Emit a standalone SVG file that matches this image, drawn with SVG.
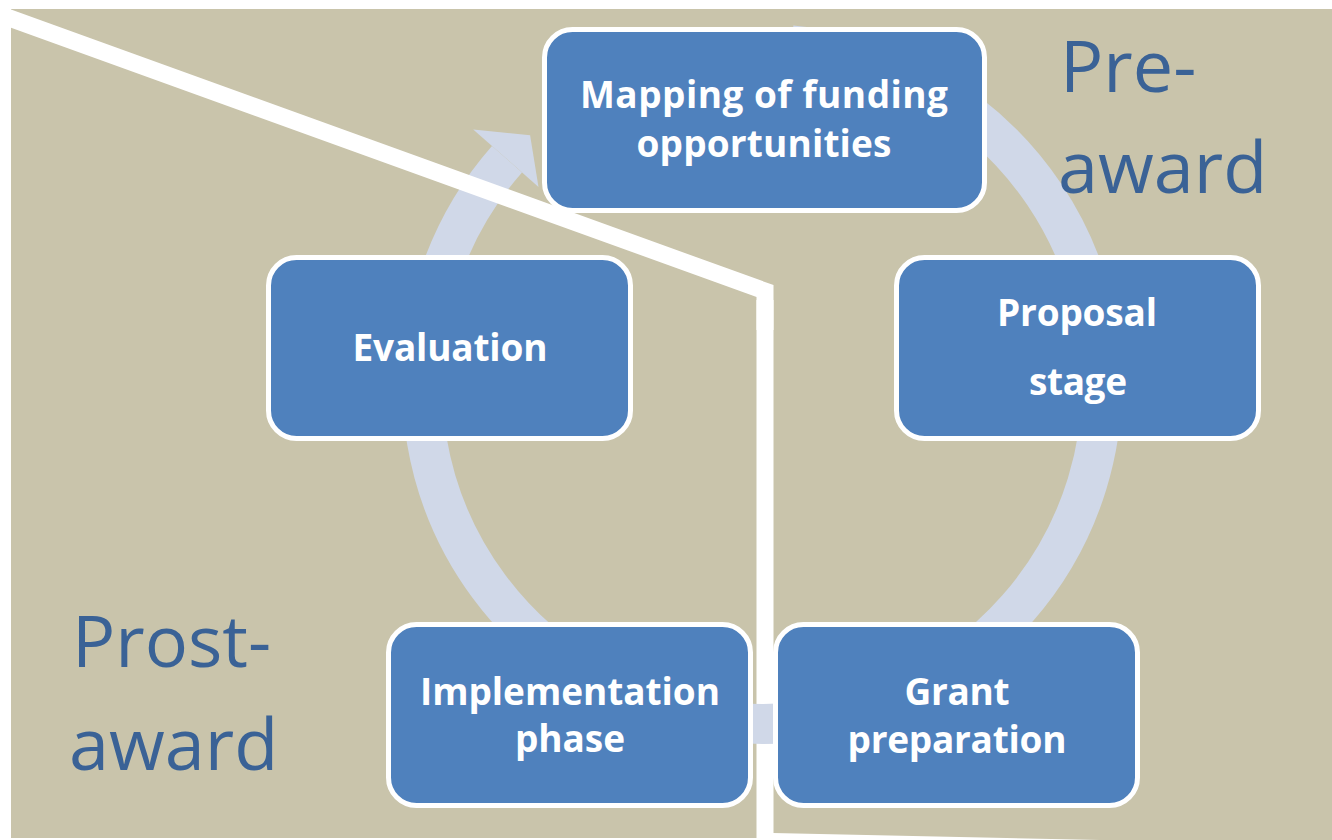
<svg xmlns="http://www.w3.org/2000/svg" width="1332" height="840" viewBox="0 0 1332 840">
  <style>
    .box { fill: #4f81bd; stroke: #ffffff; stroke-width: 5; }
    .lbl { font-family: "Open Sans", "Liberation Sans", sans-serif; font-weight: bold; font-size: 37px; fill: #ffffff; text-anchor: middle; }
    .phase { font-family: "Open Sans", "Liberation Sans", sans-serif; font-size: 72px; fill: #3a6296; }
    .divider { fill: none; stroke: #ffffff; stroke-width: 17; stroke-linejoin: miter; }
    .ring { fill: none; stroke: #d0d8e8; stroke-width: 40; }
  </style>
  <rect x="0" y="0" width="1332" height="840" fill="#ffffff"/>
  <polygon points="11,9 1332,9 1332,840 1100,840 773,833 757,838 11,838" fill="#c9c4ab"/>

  <line class="divider" x1="765" y1="300" x2="765" y2="845"/>

  <g id="connectors">
    <path class="ring" d="M 791.6 45.3 A 340 340 0 1 1 507 159.2"/>
    <polygon points="538.5,186.9 473.2,129.4 530.1,135.3" fill="#d0d8e8"/>
  </g>

  <polyline class="divider" points="-10,11 765,291 765,330"/>

  <g id="node-mapping">
    <rect class="box" x="544.5" y="29.5" width="440" height="181" rx="28"/>
    <text class="lbl" x="764" y="108" textLength="368" lengthAdjust="spacing">Mapping of funding</text>
    <text class="lbl" x="764" y="157" textLength="255" lengthAdjust="spacing">opportunities</text>
  </g>
  <g id="node-proposal">
    <rect class="box" x="896.5" y="257.5" width="362" height="181" rx="28"/>
    <text class="lbl" x="1077" y="326" textLength="160" lengthAdjust="spacing">Proposal</text>
    <text class="lbl" x="1078" y="395" textLength="98" lengthAdjust="spacing">stage</text>
  </g>
  <g id="node-grant">
    <rect class="box" x="775.5" y="624.5" width="362" height="181" rx="28"/>
    <text class="lbl" x="957" y="705" textLength="105" lengthAdjust="spacing">Grant</text>
    <text class="lbl" x="957" y="753" textLength="219" lengthAdjust="spacing">preparation</text>
  </g>
  <g id="node-implementation">
    <rect class="box" x="388.5" y="624.5" width="362" height="181" rx="28"/>
    <text class="lbl" x="570" y="705" textLength="300" lengthAdjust="spacing">Implementation</text>
    <text class="lbl" x="570" y="752" textLength="110" lengthAdjust="spacing">phase</text>
  </g>
  <g id="node-evaluation">
    <rect class="box" x="268.5" y="257.5" width="362" height="181" rx="28"/>
    <text class="lbl" x="450" y="361" textLength="195" lengthAdjust="spacing">Evaluation</text>
  </g>

  <g id="label-pre-award">
    <text class="phase" x="1060" y="92">Pre-</text>
    <text class="phase" x="1058" y="193">award</text>
  </g>
  <g id="label-post-award">
    <text class="phase" x="72" y="667">Prost-</text>
    <text class="phase" x="69" y="770">award</text>
  </g>
</svg>
